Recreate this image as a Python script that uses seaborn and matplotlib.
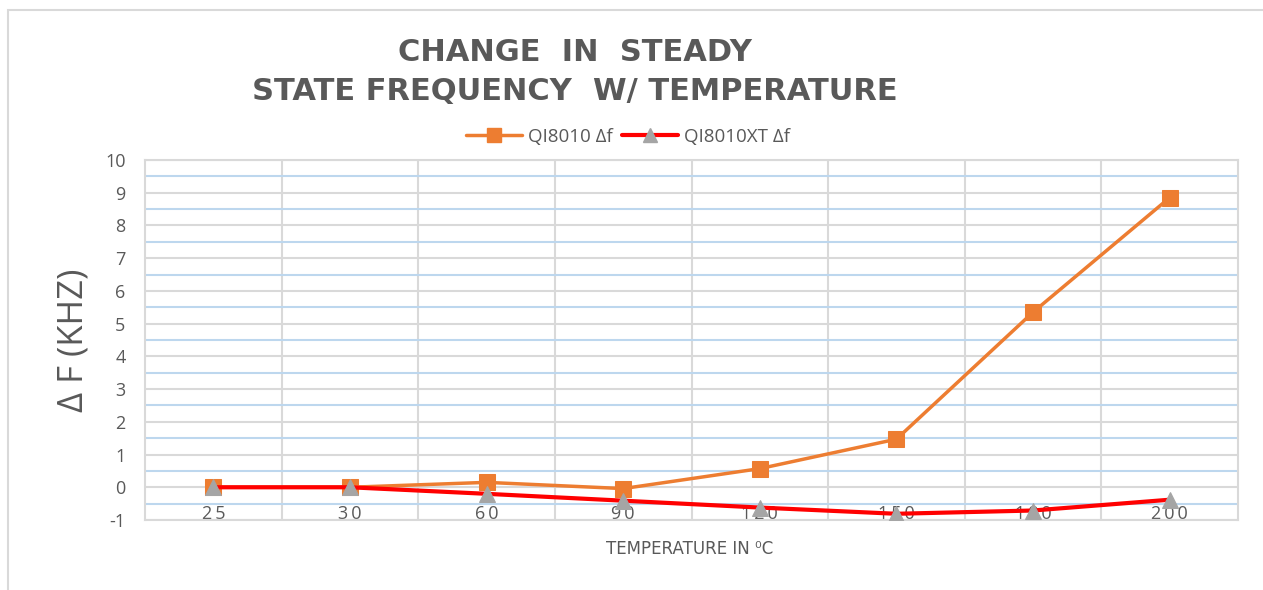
import pandas as pd
import seaborn as sns
import matplotlib.pyplot as plt
from matplotlib.lines import Line2D
from matplotlib.patches import Rectangle
from matplotlib.ticker import MultipleLocator

# Data
temps = ['25', '30', '60', '90', '120', '150', '180', '200']
qi8010 = [0.0, 0.0, 0.15, -0.04, 0.57, 1.47, 5.35, 8.85]
qi8010xt = [0.0, 0.0, -0.2, -0.41, -0.62, -0.81, -0.71, -0.38]
series_names = ['QI8010 Δf', 'QI8010XT Δf']

grey_text = '#595959'
orange = '#ED7D31'
red = '#FF0000'
tri_grey = '#A5A5A5'

df = pd.DataFrame({'temp': temps, 'a': qi8010, 'b': qi8010xt})

sns.set_theme(style='white')
plt.rcParams['font.family'] = ['Open Sans', 'DejaVu Sans']
plt.rcParams['axes.unicode_minus'] = False

fig = plt.figure(figsize=(12.63, 5.9), dpi=100)
ax = fig.add_axes([145/1263, 1-520/590, 1093/1263, 360/590])

# light frame round the chart (right and bottom edges fall outside the picture)
fig.patches.append(Rectangle((8/1263, -0.2), 1.2, 1.2-10/590, transform=fig.transFigure,
                             fill=False, edgecolor='#D9D9D9', linewidth=1.5, zorder=0))

sns.lineplot(data=df, x='temp', y='a', ax=ax, color=orange, linewidth=2.5,
             marker='s', markersize=12, markerfacecolor=orange, markeredgecolor=orange, zorder=3)
sns.lineplot(data=df, x='temp', y='b', ax=ax, color=red, linewidth=3,
             marker='^', markersize=12, markerfacecolor=tri_grey, markeredgecolor=tri_grey, zorder=4)

ax.set_ylim(-1, 10)
ax.set_xlim(-0.5, len(temps) - 0.5)
ax.yaxis.set_major_locator(MultipleLocator(1))
ax.set_yticks([v + 0.5 for v in range(-1, 10)], minor=True)
ax.grid(axis='y', which='major', color='#D9D9D9', linewidth=1.5, zorder=0)
ax.grid(axis='y', which='minor', color='#BDD7EE', linewidth=1.5, zorder=0)
ax.set_xticks(range(len(temps)))
ax.set_xticklabels(['\u2009'.join(t) for t in temps])
ax.set_xticks([i + 0.5 for i in range(len(temps) - 1)], minor=True)
ax.grid(axis='x', which='minor', color='#D9D9D9', linewidth=1.5, zorder=0)
ax.set_axisbelow(True)
for s in ax.spines.values():
    s.set_color('#D9D9D9')
    s.set_linewidth(1.5)

ax.tick_params(axis='both', which='both', length=0)
ax.tick_params(axis='y', labelsize=13, labelcolor=grey_text, pad=14)
ax.tick_params(axis='x', labelsize=13, labelcolor=grey_text, pad=-11)

ax.set_xlabel('')
ax.set_ylabel('')
fig.text(73/1263, 1-340/590, 'Δ F (KHZ)', rotation=90, ha='center', va='center',
         fontsize=25, color=grey_text)
fig.text(690/1263, 1-549/590, 'TEMPERATURE IN ⁰C', ha='center', va='center',
         fontsize=12, color=grey_text, family=['Liberation Sans Narrow', 'DejaVu Sans'])

fig.text(575/1263, 1-72/590, 'CHANGE  IN  STEADY\nSTATE FREQUENCY  W/ TEMPERATURE',
         ha='center', va='center', multialignment='center', fontsize=22,
         fontweight='bold', color=grey_text, linespacing=1.45, family=['DejaVu Sans'])

handles = [Line2D([], [], color=orange, linewidth=2.5, marker='s', markersize=10,
                  markerfacecolor=orange, markeredgecolor=orange),
           Line2D([], [], color=red, linewidth=3, marker='^', markersize=10,
                  markerfacecolor=tri_grey, markeredgecolor=tri_grey)]
leg = fig.legend(handles, series_names, loc='center', bbox_to_anchor=(628/1263, 1-137/590),
                 ncol=2, frameon=False, fontsize=13.5, handlelength=3, handletextpad=0.3,
                 columnspacing=0.5, labelcolor=grey_text)

plt.savefig('out.png', dpi=100)
